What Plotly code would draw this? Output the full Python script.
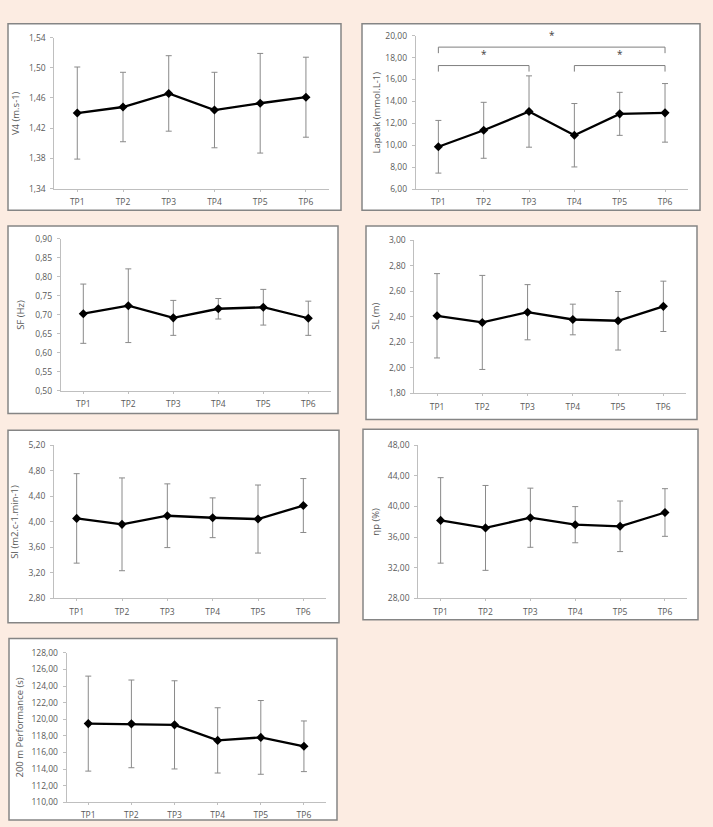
import plotly.graph_objects as go

W, H = 713, 827

categories = ["TP1", "TP2", "TP3", "TP4", "TP5", "TP6"]

v4_mean = [1.440, 1.448, 1.466, 1.444, 1.453, 1.461]
v4_sd = [0.061, 0.046, 0.050, 0.050, 0.066, 0.053]

la_mean = [9.87, 11.37, 13.08, 10.92, 12.87, 12.96]
la_sd = [2.40, 2.55, 3.25, 2.89, 1.96, 2.67]

sf_mean = [0.703, 0.724, 0.692, 0.716, 0.720, 0.691]
sf_sd = [0.078, 0.097, 0.046, 0.027, 0.047, 0.045]

sl_mean = [2.408, 2.356, 2.436, 2.379, 2.369, 2.482]
sl_sd = [0.330, 0.368, 0.216, 0.120, 0.229, 0.197]

si_mean = [4.054, 3.961, 4.096, 4.064, 4.044, 4.256]
si_sd = [0.702, 0.728, 0.500, 0.312, 0.534, 0.423]

np_mean = [38.17, 37.19, 38.52, 37.61, 37.40, 39.20]
np_sd = [5.58, 5.54, 3.86, 2.36, 3.30, 3.11]

perf_mean = [119.47, 119.44, 119.32, 117.45, 117.81, 116.74]
perf_sd = [5.72, 5.28, 5.31, 3.93, 4.44, 3.05]

# significance brackets on Lapeak panel: (from index, to index, level, label)
lapeak_brackets = [(0, 2, 17.27, "*"), (3, 5, 17.27, "*"), (0, 5, 18.95, "*")]

panels = [
    dict(mean=v4_mean, sd=v4_sd, title="V4 (m.s-1)", yr=[1.34, 1.54], dt=0.04,
         box=(8, 18, 341, 207), plot=(54.4, 32, 328.8, 185), tx=15),
    dict(mean=la_mean, sd=la_sd, title="Lapeak (mmol.L-1)", yr=[6, 20], dt=2,
         box=(362, 18, 700, 207), plot=(415.7, 30, 687.7, 185.7), tx=376),
    dict(mean=sf_mean, sd=sf_sd, title="SF (Hz)", yr=[0.5, 0.9], dt=0.05,
         box=(8, 223, 338, 413), plot=(60.8, 236, 330.8, 390), tx=21),
    dict(mean=sl_mean, sd=sl_sd, title="SL (m)", yr=[1.8, 3.0], dt=0.2,
         box=(366, 223, 697, 419), plot=(414.4, 237.3, 686, 392.7), tx=376),
    dict(mean=si_mean, sd=si_sd, title="SI (m2.c-1.min-1)", yr=[2.8, 5.2], dt=0.4,
         box=(8, 430, 339, 625), plot=(54, 445.3, 326, 600.3), tx=15),
    dict(mean=np_mean, sd=np_sd, title="\u03b7p (%)", yr=[28, 48], dt=4,
         box=(363, 429, 698, 622), plot=(418.2, 445, 687.4, 600.3), tx=376),
    dict(mean=perf_mean, sd=perf_sd, title="200 m Performance (s)", yr=[110, 128], dt=2,
         box=(9, 641, 337, 825), plot=(66.7, 655.5, 325.5, 807), tx=20),
]

FONT = "Open Sans, Liberation Sans, sans-serif"
TXT = "#595959"
AX = "#bfbfbf"

fig = go.Figure()
shapes = []
annotations = []
layout = dict(
    width=W, height=H, margin=dict(l=0, r=0, t=0, b=0),
    paper_bgcolor="#fcece2", plot_bgcolor="rgba(0,0,0,0)",
    showlegend=False, separators=",.",
    font=dict(family=FONT, size=8, color=TXT),
)

def px_x(v):
    return v / W

def px_y(v):
    return 1 - v / H

for i, p in enumerate(panels):
    n = "" if i == 0 else str(i + 1)
    bl, bt, br, bb = p["box"]
    shapes.append(dict(type="rect", xref="paper", yref="paper",
                       x0=px_x(bl), x1=px_x(br), y0=px_y(bb), y1=px_y(bt),
                       fillcolor="white", line=dict(color="#858585", width=1.5),
                       layer="below"))
    pl, pt, pr, pb = p["plot"]
    fig.add_trace(go.Scatter(
        x=categories, y=p["mean"], mode="lines+markers",
        xaxis="x" + n, yaxis="y" + n,
        line=dict(color="black", width=2.3),
        marker=dict(symbol="diamond", size=7, color="black"),
        error_y=dict(type="data", array=p["sd"], visible=True,
                     color="#8a8a8a", thickness=1, width=3),
        hoverinfo="skip",
    ))
    layout["xaxis" + n] = dict(
        domain=[px_x(pl), px_x(pr)], anchor="y" + n,
        type="category", range=[-0.5, 5.5],
        showline=True, linecolor=AX, linewidth=1,
        ticks="outside", ticklen=2, tickcolor=AX, ticklabelstandoff=3,
        showgrid=False, zeroline=False, fixedrange=True,
        tickfont=dict(family=FONT, size=8.5, color=TXT),
    )
    layout["yaxis" + n] = dict(
        domain=[px_y(pb), px_y(pt)], anchor="x" + n,
        range=p["yr"], dtick=p["dt"], tick0=p["yr"][0], tickformat=".2f",
        showline=True, linecolor=AX, linewidth=1,
        ticks="outside", ticklen=3, tickcolor=AX, ticklabelstandoff=3,
        showgrid=False, zeroline=False, fixedrange=True,
        tickfont=dict(family=FONT, size=8.5, color=TXT),
    )
    annotations.append(dict(
        xref="paper", yref="paper", x=px_x(p["tx"]), y=px_y((pt + pb) / 2),
        text=p["title"], textangle=-90, showarrow=False,
        xanchor="center", yanchor="middle",
        font=dict(family=FONT, size=9.5, color=TXT),
    ))

# brackets on Lapeak panel (axes x2/y2)
tick_drop = 0.55
for a, b, lvl, lab in lapeak_brackets:
    shapes.append(dict(type="path", xref="x2", yref="y2",
                       path=f"M {a},{lvl - tick_drop} L {a},{lvl} L {b},{lvl} L {b},{lvl - tick_drop}",
                       line=dict(color="#7f7f7f", width=1)))
    annotations.append(dict(xref="x2", yref="y2", x=(a + b) / 2, y=lvl + 0.25,
                            text=lab, showarrow=False, yanchor="bottom",
                            font=dict(family=FONT, size=10, color="#404040")))

layout["shapes"] = shapes
layout["annotations"] = annotations
fig.update_layout(**layout)
fig.write_html("out.html", config={"displayModeBar": False, "staticPlot": True})
